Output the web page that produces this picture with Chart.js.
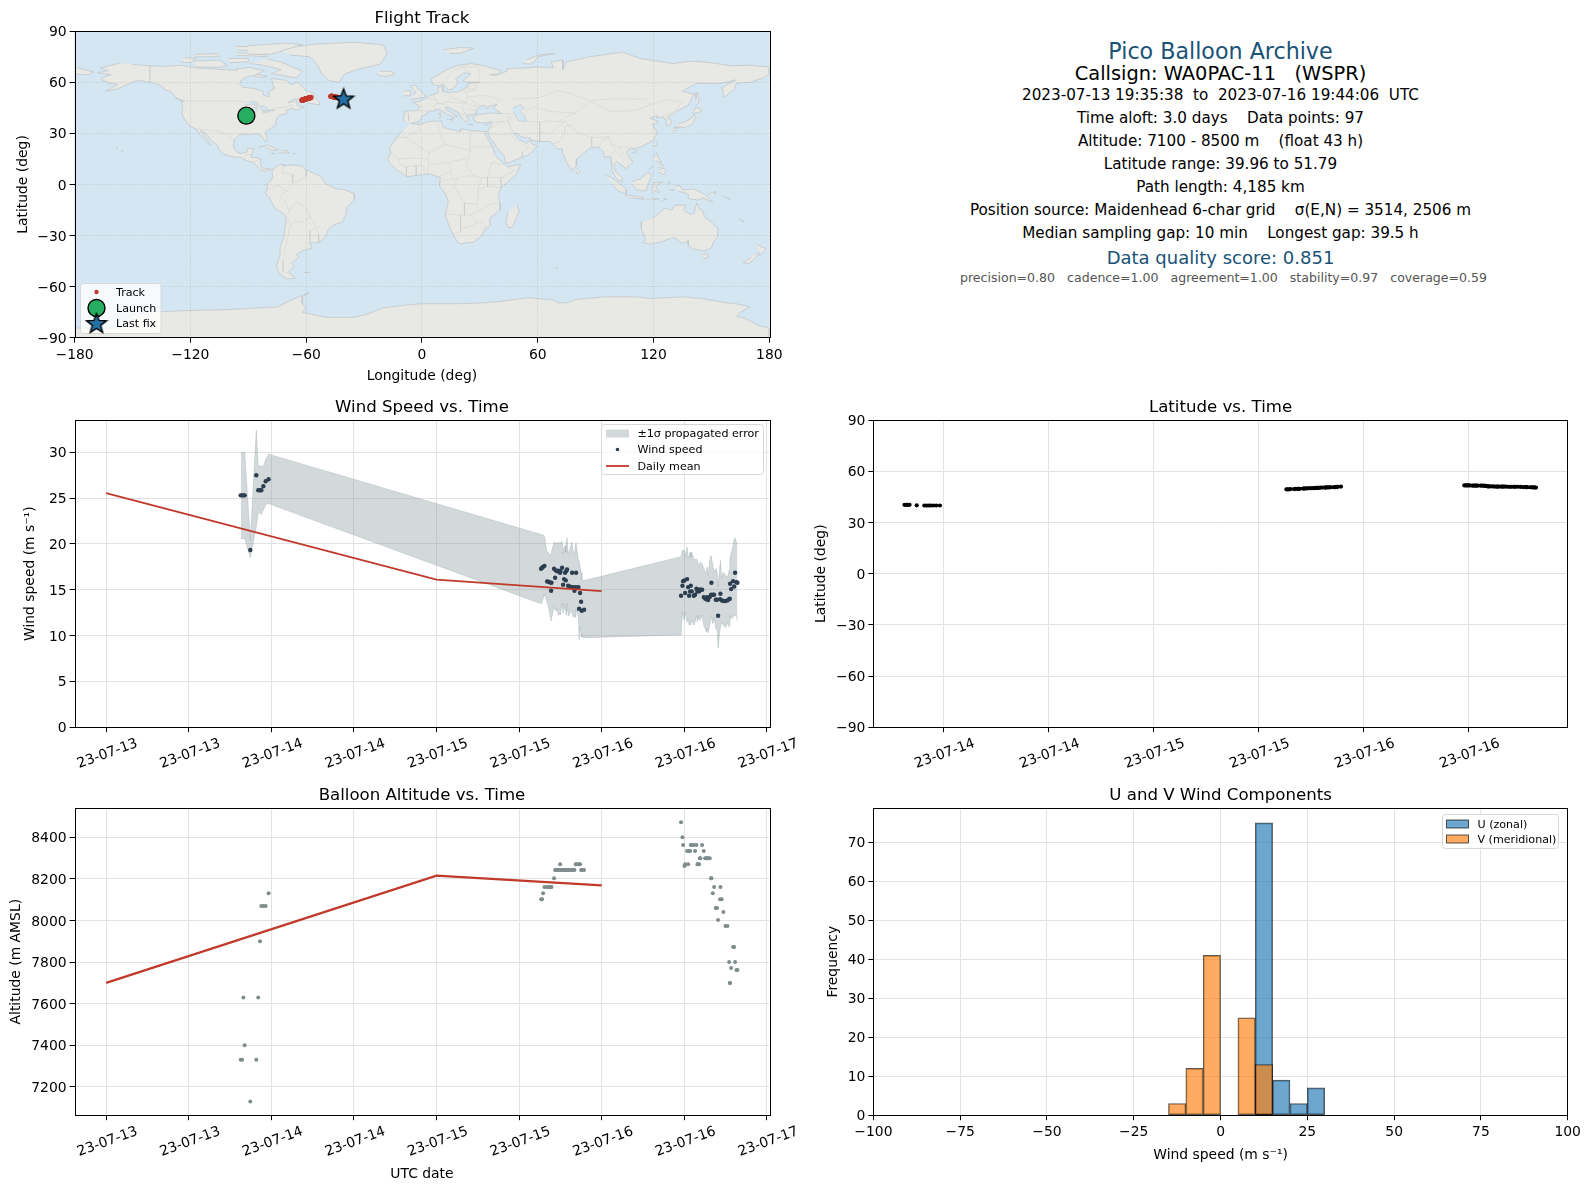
<!DOCTYPE html>
<html>
<head>
<meta charset="utf-8">
<title>Pico Balloon Archive</title>
<script src="https://cdn.jsdelivr.net/npm/chart.js@4/dist/chart.umd.min.js"></script>
<style>
  html, body { margin: 0; padding: 0; background: #fff; }
  #page { position: relative; width: 1589px; height: 1189px; overflow: hidden; }
  canvas { position: absolute; }
  .info { position: absolute; left: 873px; width: 695px; text-align: center; white-space: pre;
          font-family: "DejaVu Sans", sans-serif; transform: translateY(-50%); }
</style>
</head>
<body>
<div id="page">
  <canvas id="mapChart"></canvas>
  <canvas id="windChart"></canvas>
  <canvas id="latChart"></canvas>
  <canvas id="altChart"></canvas>
  <canvas id="histChart"></canvas>
</div>
<script>
// hours since 2023-07-13 00:00 UTC, one per report
const sampleHours = [
  19.55,19.75,19.94,20.13,20.95,21.82,22.1,22.36,22.55,22.84,23.18,23.6,
  63.2,63.34,63.49,63.68,64.07,64.26,64.5,64.65,64.7,65.08,65.23,65.33,65.57,65.71,65.96,66,66.25,66.39,66.54,66.68,66.78,66.83,66.97,67.12,67.36,67.65,67.7,67.85,68.04,68.23,68.28,68.62,68.72,68.86,69.01,69.1,69.44,
  83.53,83.73,83.83,84.02,84.12,84.41,84.55,84.7,84.84,84.94,85.08,85.38,85.57,85.76,85.91,86,86.15,86.25,86.34,86.59,86.83,87.02,87.22,87.31,87.46,87.7,87.89,87.94,88.14,88.33,88.57,88.76,88.91,89.2,89.25,89.44,89.68,89.98,90.27,90.51,90.61,90.65,90.8,91.09,91.24,91.38,91.57,91.72
];
const windSpeed = [
  25.3,25.3,25.3,25.3,19.33,27.5,25.86,25.86,25.86,26.3,26.84,27.06,
  17.29,17.4,17.5,17.61,15.91,15.87,15.8,14.89,15.76,17.29,16.31,17.11,17,17.07,16.85,17.03,17.4,15.54,16.16,16.85,16.02,17.03,17.21,15.44,15.36,15.29,16.85,15.29,14.89,15.29,16.85,15.29,12.93,14.64,13.69,12.71,12.82,
  14.35,15.44,15.94,16.02,14.64,16.16,15.29,14.35,14.82,15.44,14.82,14.35,14.46,15.11,14.82,15,14.82,15,15,15,14.2,14.05,13.95,14.2,13.87,14.2,14.46,15.76,14.46,14.46,13.91,13.91,12.17,13.98,14.56,13.84,13.77,13.77,13.84,13.98,14.02,15.65,15.07,15.94,15.36,16.85,15.83,15.76
];
const windUpper = [
  30,30,30,30,20.4,32.4,28.5,28.5,28.5,28.44,29.2,29.8,
  21.03,20.95,21,20.8,19.1,19.1,18.7,18.9,19.1,20.2,20,20.1,20.1,20.2,20,20.1,20.3,18.9,19.65,19.8,19.1,20.1,20.66,18.9,19.3,20.2,20,19.1,18.9,20,20.1,18.2,18.2,17.5,16.9,16.1,16,
  18.6,19.3,19.36,19.3,18.56,19.65,18.4,18.74,19.1,18.56,19.1,18.38,18.27,18.38,18.2,17.9,17.65,18,18,17.83,17.3,16.9,17.1,17.47,16.56,18.2,18.74,18.74,17.65,16.9,17.3,16.9,15.3,17.83,18.2,16.2,16.9,16.56,16.38,17.1,17.83,18.56,18.92,19.83,20.54,20.66,20.2,20
];
const windLower = [
  20.6,20.6,20.6,20.6,18.5,21.9,23.4,23.4,23.2,23.7,24.3,24.4,
  13.47,13.66,14,14.56,13.66,13.1,12.2,11.6,11.84,13.2,12.75,13,12.6,12.2,12.4,12.3,13.5,12.4,13.5,12.75,13.1,12.2,13.5,12.1,12.4,12.75,12.6,12,12.2,11.95,12.9,12,9.55,10.9,10.2,9.85,9.77,
  10.06,12.57,12,11.66,12.57,11.48,11.84,11.12,11.3,11.2,11.66,11.12,11.48,12.2,11.48,12.2,11.66,12,11.84,12.2,11.12,10.75,10.4,10.75,10.28,11.12,12,12.2,11.3,12,10.75,10.57,8.65,10.75,10.9,11.48,11.12,10.9,11.37,11,11.2,12.2,11.84,12,12.2,12.2,12.2,11.6
];
const altitudeM = [
  7330,7330,7630,7400,7130,7330,7630,7900,8069,8069,8069,8131,
  8102,8102,8131,8160,8160,8160,8160,8160,8160,8203,8242,8242,8242,8242,8270,8242,8242,8242,8242,8242,8242,8242,8242,8242,8242,8242,8242,8242,8242,8270,8270,8270,8270,8270,8242,8242,8242,
  8472,8400,8362,8261,8270,8333,8270,8333,8333,8362,8362,8362,8333,8362,8270,8270,8270,8299,8299,8362,8333,8299,8299,8299,8299,8299,8203,8203,8131,8160,8059,8059,8002,8102,8160,8102,8040,7973,7973,7800,7699,7699,7771,7872,7872,7800,7762,7762
];
const latitudeDeg = [
  40.4,40.4,40.4,40.4,40.1,40,39.96,40,40,40,40,40,
  49.5,49.5,49.5,49.6,49.6,49.7,49.7,49.8,49.8,49.9,49.9,50,50,50.1,50.1,50.1,50.2,50.2,50.3,50.3,50.4,50.4,50.4,50.5,50.5,50.5,50.6,50.6,50.6,50.7,50.7,50.7,50.8,50.8,51,51,51.1,
  51.79,51.79,51.79,51.75,51.75,51.7,51.7,51.7,51.7,51.65,51.65,51.6,51.6,51.6,51.5,51.5,51.3,51.2,51.2,51.2,51.2,51.1,51.1,51.1,51.1,51.1,51.1,51.1,51.1,51.1,51,51,51,51,51,51,51,50.9,50.8,50.8,50.8,50.8,50.7,50.7,50.7,50.6,50.6,50.5
];
const longitudeDeg = [
  -91,-90.9,-90.8,-90.7,-90.3,-89.8,-89.5,-89.4,-89.3,-89.2,-89,-88.8,
  -62.2,-62.1,-62,-61.9,-61.7,-61.6,-61.5,-61.4,-61.3,-61.1,-61,-60.9,-60.8,-60.7,-60.6,-60.5,-60.4,-60.3,-60.1,-60,-59.9,-59.8,-59.7,-59.6,-59.4,-59.3,-59.2,-59.1,-58.9,-58.8,-58.7,-58.5,-58.4,-58.2,-58,-57.8,-57.5,
  -47.2,-47.1,-47,-46.9,-46.8,-46.7,-46.6,-46.4,-46.3,-46.2,-46.1,-46,-45.9,-45.8,-45.7,-45.6,-45.5,-45.3,-45.2,-45.1,-45,-44.9,-44.7,-44.6,-44.5,-44.3,-44.2,-44.1,-44,-43.8,-43.7,-43.6,-43.4,-43.3,-43.2,-43,-42.9,-42.7,-42.5,-42.4,-42.2,-42,-41.8,-41.6,-41.4,-41.2,-40.9,-40.6
];

// daily means
const dailyHours = [0, 48, 72];
const dailyWind = [25.55, 16.1, 14.85];
const dailyAlt = [7700, 8215, 8168];

// histogram bins (bin centres, 5 m/s wide)
const uBins = [12.5, 17.5, 22.5, 27.5];
const uCounts = [75, 9, 3, 7];
const vBins = [-12.5, -7.5, -2.5, 7.5, 12.5];
const vCounts = [3, 12, 41, 25, 13];

// axis ticks
const timeTicks = [0, 12, 24, 36, 48, 60, 72, 84, 96];
const timeLabels = ['23-07-13','23-07-13','23-07-14','23-07-14','23-07-15','23-07-15','23-07-16','23-07-16','23-07-17'];
const latTimeTicks = [24, 36, 48, 60, 72, 84];
const latTimeLabels = ['23-07-14','23-07-14','23-07-15','23-07-15','23-07-16','23-07-16'];
const lonTicks = [-180, -120, -60, 0, 60, 120, 180];
const latTicks = [-90, -60, -30, 0, 30, 60, 90];
const windTicks = [0, 5, 10, 15, 20, 25, 30];
const altTicks = [7200, 7400, 7600, 7800, 8000, 8200, 8400];
const histXTicks = [-100, -75, -50, -25, 0, 25, 50, 75, 100];
const histYTicks = [0, 10, 20, 30, 40, 50, 60, 70];

// land outlines, [lon, lat]
const northAmerica = [[-156.6,71.3],[-166.8,68.3],[-162.6,66.9],[-168,65.6],[-161,64.5],[-165,63],[-166,61.6],[-162,59.5],[-157.5,58.8],[-164,54.7],[-158,56],[-153,58.5],[-151.5,59.3],[-149,60.6],[-146,61],[-140,59.8],[-135.5,58.2],[-133,55.5],[-130,54.5],[-127.5,51],[-123,49],[-124.5,48.3],[-124,46],[-124.4,42.5],[-123.8,39.5],[-122,36.7],[-120.5,34.5],[-117.2,32.6],[-116,31],[-115,29],[-112.5,26.5],[-110,23],[-109.5,23.1],[-111,25.8],[-113,28.5],[-114.7,31.5],[-113,31],[-110.5,27.8],[-109,25.5],[-106,23],[-105,20],[-103,18.2],[-100,16.7],[-96,15.8],[-94,16.2],[-92,14.5],[-89,13.3],[-87.5,13],[-85.7,11],[-83.5,8.5],[-81,7.5],[-80,8.8],[-77.5,7.8],[-77.4,8.7],[-79.5,9.5],[-81.5,9],[-83.5,10.5],[-83.5,15],[-86,15.9],[-88.5,15.9],[-88,18.5],[-87,21.3],[-90.3,21],[-90.7,19],[-94,18.2],[-96,19],[-97.7,22],[-97.2,26],[-94.5,29.5],[-90,29.2],[-85,29.7],[-82.8,28],[-81,25.2],[-80,26.8],[-81.3,30.5],[-75.5,35.3],[-76,37],[-74,40.5],[-70,41.7],[-70.5,43.5],[-67,44.8],[-65.5,43.5],[-61,45.3],[-64.5,46.3],[-65,49],[-69.5,48],[-66.5,50.2],[-59,50.2],[-55.8,52],[-56,53.5],[-60.5,55.5],[-62,57.5],[-64.5,60.3],[-68,58.5],[-70,61],[-78,62.4],[-77,57.5],[-76.7,56],[-79.5,54.5],[-79,51.5],[-82,52.5],[-82.5,55],[-88,56.5],[-92.5,57],[-94.5,59],[-93.5,61.5],[-90,63.5],[-87,64],[-81.5,67],[-86,67.8],[-89,68.8],[-94,68],[-96,68],[-96,67],[-108,67.8],[-115,68.2],[-125,70],[-135,69.3],[-141,69.7],[-150,70.5]];
const greenland = [[-73,78.5],[-65,81],[-55,82.5],[-35,83.5],[-20,82],[-18,77],[-20,73],[-22,70.5],[-32,68],[-40,65],[-43,60],[-48,61],[-52,65],[-54,70],[-58,75],[-68,76]];
const southAmerica = [[-77.4,8.7],[-75,11],[-72,12],[-71.5,10.8],[-68,11.5],[-62,10.7],[-60,8.5],[-52,4.5],[-50,0.5],[-44.5,-2.5],[-40,-3],[-35.2,-5.5],[-35,-9],[-39,-13.5],[-39.5,-18],[-41,-22],[-46,-24],[-48.5,-26.5],[-50,-31],[-53.5,-34.2],[-58.2,-34.3],[-57,-37.5],[-62,-39],[-65,-41],[-63.7,-42.5],[-67.5,-46.5],[-66,-48],[-69,-51],[-68.2,-52.5],[-65.5,-55],[-70,-55.5],[-74,-52.5],[-75.5,-48],[-73.5,-41.5],[-73.5,-37],[-71.5,-30],[-70.2,-20],[-72,-17],[-76.3,-14],[-79,-8],[-81.3,-5],[-80,-2.5],[-80.2,0.5],[-78.5,2],[-77.3,4],[-77.5,7]];
const africa = [[-6,35.8],[-1,35.2],[3,36.9],[10,37.3],[11,33.5],[15,32.3],[20,31],[20,32.8],[25,31.6],[32,31.2],[34.2,31.3],[32.5,30],[34,27],[37,21],[37.5,18],[39.5,15.2],[43,12],[44.5,10.5],[51.2,11.8],[49,6],[44,1],[41,-2],[39.5,-6],[40.5,-11],[40.5,-15],[35,-20],[35.5,-24],[32.9,-26],[31,-30],[27,-33.8],[20,-34.8],[18.4,-34],[15,-27],[12,-18],[13.7,-10.5],[12,-5],[9,-1],[9.5,4],[5,5.8],[4,6.3],[-4,5.2],[-7.5,4.4],[-13,8.5],[-16.8,12.5],[-17.5,14.7],[-16.2,19],[-17,21],[-13,27.7],[-9.8,31.5]];
const eurasia = [[-9,37],[-9.5,38.7],[-9,43],[-2,43.4],[-1.2,46],[-4.7,48.4],[-1.5,48.7],[1.5,50.2],[4,52],[8.5,54],[8.2,57],[10.5,57.7],[10.8,54.5],[14,54],[19,54.4],[21,56],[24,57.5],[24,59.3],[30,60],[23,60],[21.2,61],[25.3,65],[22,65.7],[17.5,62],[18.8,60],[16.5,56.5],[14.2,55.5],[12.8,56],[11,59],[8,58],[5.3,59],[5,62],[13,67.5],[19,70],[25.5,71],[31,70],[41,67],[40,65],[35,64.5],[38,64],[44,66.5],[44,68],[54,68.5],[60,69],[68,68.5],[67,72],[73,73],[73,67.5],[75,72],[87,75],[104,77.7],[113,74],[130,71],[140,72.5],[150,71.5],[160,69.7],[170,70],[180,69],[180,65],[177,62.5],[170,60],[163,59.5],[162,56],[156.5,51],[155.5,57],[163,61.5],[155,59.3],[142,59.3],[135,54.7],[141,53],[138,46.5],[132,43],[129.5,41],[127.5,39.7],[129.3,37],[129,35.2],[126.5,34.5],[126.7,37.5],[125,39.7],[121.5,39],[122,40.5],[118,39],[122.5,37],[119.5,35],[122,30.5],[120,26],[114,22.3],[110,21],[108,21.5],[106,19],[109.3,13],[105.5,9],[104.8,10.3],[100.8,13.5],[99.5,11],[100,8],[103.5,4],[104,1.3],[101,3],[98.5,8],[98.2,13],[97.5,16.5],[94.5,16],[94,19],[92,21.5],[90,22],[87,21.3],[85,19.5],[80.3,15],[80,11],[77.5,8],[74.5,14],[72.8,19],[72.5,21],[70,21],[68,23.5],[66.5,25.3],[61,25.2],[57,25.8],[56.3,27],[51.5,28],[49,30.2],[48,29.8],[50,26.7],[51.5,25.5],[54,24.2],[56.3,26],[56.8,24],[59.8,22.5],[55.5,17.5],[52,16],[45,12.8],[43.3,12.8],[42.5,16.5],[39,21.5],[35,28],[34.8,29.5],[34.2,31.3],[35.8,35],[36,36.7],[32,36.1],[27.5,36.7],[26.3,39.3],[29,41],[35,42],[41.5,41.5],[37,44.8],[39,47],[35,46],[33.5,44.5],[33,46],[31,46.5],[28,43.5],[28.5,41.5],[26,40.7],[23,40.3],[24,38],[22.8,36.5],[21.2,38],[19.4,41],[19,42.2],[14,45],[12.3,45.3],[12.5,44],[16,41.7],[18.4,40],[16.7,40],[16,38],[15.7,40.2],[12.3,41.7],[10.2,43.3],[8.8,44.4],[6,43.1],[3.2,43.2],[3,41.8],[0,40],[-0.5,38.2],[-2,36.8],[-5.5,36]];
const chukotkaWest = [[-180,69],[-175,67.5],[-170,66],[-173,64.3],[-180,65]];
const australia = [[114,-22],[113.7,-26],[115.7,-32],[115,-34.3],[118,-35],[123.5,-33.9],[129,-31.6],[131.5,-31.5],[135,-34.7],[138,-33],[138,-35.7],[140.5,-38],[144,-38.5],[146.5,-39],[150,-37.3],[151,-34],[153,-31],[153.3,-26],[150.8,-23],[146.5,-19],[145.3,-15],[143.5,-14],[142.5,-10.8],[141.7,-13.5],[141,-17],[139,-17.5],[135.5,-15],[136.7,-12],[131,-12.2],[129.5,-15],[125.8,-14],[122.3,-17.5],[119,-20]];
const antarctica = [[-180,-84.3],[-158,-84.5],[-150,-79],[-155,-77.5],[-140,-75],[-120,-74],[-100,-73.5],[-90,-72.8],[-75,-72],[-68,-68],[-58,-63.3],[-62,-66],[-62,-70],[-60,-73],[-62,-75],[-50,-78],[-35,-78],[-28,-76],[-20,-72.5],[-10,-71],[0,-70],[20,-70],[32,-69.5],[40,-68.8],[55,-66.5],[68,-67.8],[70,-69.5],[75,-69.5],[80,-67.5],[95,-66],[110,-66],[120,-67],[135,-66],[145,-67],[155,-69],[165,-70.5],[170,-72],[165,-75],[163,-77.5],[167,-78.5],[175,-83],[180,-84.3],[180,-90],[-180,-90]];
const islands = [
  [[-80,73.7],[-72,71.5],[-62,66.5],[-65,62.5],[-72,64],[-78,65],[-73,67.5],[-82,70],[-89,71]], // Baffin
  [[-117,69],[-105,68.7],[-101,70],[-105,73],[-118,72.5]], [[-125,72],[-120,71.5],[-117,74],[-123,74.5]],
  [[-90,76.5],[-78,76.5],[-62,82],[-70,83],[-90,81.5]], [[-96,76],[-80,75],[-80,76],[-96,77.5]],
  [[-118,75],[-105,75],[-106,76.8],[-118,76.5]], [[-95,79],[-88,78.5],[-88,81],[-97,81]],
  [[-100,71.5],[-90,72],[-90,74],[-100,74]], [[-87,65],[-80,63.5],[-83,62.8],[-87,63.5]],
  [[-59,47.8],[-53,46.7],[-53,48.5],[-56,51.5]], [[-128,50.8],[-123.5,48.4],[-125,48.7]],
  [[-85,21.8],[-80,23.1],[-74.2,20.2],[-77.7,19.9],[-81,22]], [[-74.4,18.5],[-68.5,18.5],[-70,19.8],[-73,19.9]],
  [[-78.3,18.3],[-76.3,18],[-77,18.5]], [[-67.2,18],[-65.7,18.2],[-66.5,18.5]], [[-156,19],[-155,19.7],[-155.8,20.2]], [[-158.2,21.3],[-157.7,21.3],[-158,21.7]],
  [[-61,-51.8],[-58,-51.5],[-58.5,-52.3]], [[49.3,-12],[50.4,-15.5],[47,-25],[45,-25.5],[43.5,-22.5],[44.5,-16]],
  [[-5.5,50],[1.4,51.2],[1.7,52.7],[-2,56],[-3,58.6],[-6,57.5],[-3,54],[-4.8,52.5]], [[-10,52],[-6,52.2],[-6,55],[-8.5,55.2],[-10,54]],
  [[-24,65.5],[-22,63.9],[-18,63.4],[-14,65],[-16,66.5],[-22,66.4]], [[11,79],[20,80.5],[27,80],[20,77],[14,77]],
  [[52,71],[57,70.7],[60,75],[69,77],[60,76],[54,73]], [[80,9.7],[82,7.5],[80.5,6],[79.8,8]],
  [[12.5,38],[15.5,38.2],[15,36.7]], [[8.3,39],[9.7,39.2],[9.5,41],[8.3,40.8]], [[8.6,41.5],[9.5,41.5],[9.4,43]], [[23.5,35.3],[26.3,35.1],[25,35.4]], [[32.3,34.8],[34.5,35.6],[33.5,34.8]],
  [[130.9,34],[136,33.5],[140,35],[142,39.5],[141,41.4],[139.8,39],[136.8,37],[133,35.5]], [[140,42],[143,42],[145.3,43.5],[141.8,45.5],[141,43.2]],
  [[130,33],[132,33.5],[131,31],[130,31.5]], [[132.5,33],[134.5,33.8],[134,34.3],[132.7,34]], [[142,46],[143.5,49],[143,54],[142,53.8],[142,50]],
  [[120.2,23],[121,22],[122,25],[121,25.2]], [[108.7,19],[110.5,18.3],[111,20],[109.7,20]], [[120,16],[121.8,18.5],[122.3,16],[124,13],[121,13.7]],
  [[122,7.3],[125.5,5.7],[126.5,8],[125.3,9.7],[123,8.5]], [[122.5,10],[125,10.5],[124.5,12],[123,11.5]], [[117.3,8.5],[119.5,10.5],[119,11]],
  [[109,1.5],[111.3,2.7],[113,3],[117,7],[119,5.3],[117.5,1],[116,-4],[111,-3],[109.2,0]], [[95.3,5.6],[98,4.2],[104,-1],[106,-3],[105.8,-5.8],[102,-4],[98.5,0.3]],
  [[105.2,-6.8],[108.5,-6.5],[114.5,-7.7],[114.5,-8.7],[108,-7.8]], [[119.5,-5.5],[119,-3],[120,1],[125,1.5],[121,-0.8],[123,-4.8],[121,-4],[120.5,-3]],
  [[131,-1],[134,-0.8],[135,-3.3],[141,-2.6],[147,-6],[150.7,-10.5],[146,-8],[143,-9.2],[138,-8.3],[138,-5.5],[133,-4]],
  [[124,-10],[127,-8.4],[125,-8.6]], [[116,-8.8],[119,-8.4],[122.8,-8.4],[120,-9]], [[156,-7],[160,-9],[159,-8]], [[148,-5.8],[152,-4.2],[152,-5.5]], [[127.5,0.5],[128.5,2],[128,-0.5]], [[128,-3.3],[130.8,-3.3],[129.5,-2.9]],
  [[144.7,-40.8],[148.3,-40.9],[148,-43],[146,-43.6],[145.3,-42.5]], [[172.8,-34.5],[175.5,-36.5],[178.4,-37.7],[176.8,-40],[175,-41.5],[174.7,-39.5]],
  [[172.7,-40.6],[174.3,-41.7],[171,-45],[169,-46.6],[166.5,-46],[170.5,-43]], [[164,-20],[167,-22],[165.5,-21.5]], [[69,-49],[70.5,-49.3],[69.5,-49.8]]
];
// inland water painted in the ocean colour
const caspianSea = [[47,45],[51,47],[53,45],[51,43],[53.5,40],[54,37],[50,37.3],[49,39],[47.5,43]];
const greatLakes = [[[-92,46.8],[-85,46.7],[-85,48],[-88.5,49]], [[-87.7,41.8],[-86.3,42],[-85,45.7],[-87.8,45]], [[-84.5,46],[-81.5,46],[-79.7,44.5],[-82,43],[-83.5,44]], [[-83.2,41.8],[-79,42.8],[-79,43.4],[-76.3,43.6],[-79.7,43.8],[-82,42.5]]];
// country borders, null starts a new line
const borders = [
  [-141,69.7],[-141,60],null,[-123,49],[-95,49],[-89,48],[-84,46.5],[-82.5,43],[-79,43],[-75,45],[-71,45],[-67.8,47],[-67,44.8],null,
  [-117.2,32.6],[-106.5,31.8],[-101,29.5],[-97.2,26],null,[-92,14.5],[-91,17.5],[-89,17.8],[-88.5,15.9],null,[-87.5,13],[-85,14.5],[-83.5,15],null,
  [-72,12],[-72.5,7],[-67,6],[-67,1],[-70,-4],[-74,-7],[-70,-11],[-69,-16],[-70.2,-18],null,[-80,-3.5],[-75,-0.5],[-70,-4],null,[-60,8.5],[-60,5],[-64,2],[-67,1],null,
  [-69,-16],[-65,-10],[-60,-14],[-58,-19],[-54.5,-25.5],[-58,-27],[-58,-34],null,[-70.2,-18],[-68,-23],[-70,-33],[-72,-45],[-72,-51],[-68.2,-52.5],null,[-58,-19],[-62,-22],[-67,-22],null,[-54.5,-25.5],[-53.5,-30],[-53.5,-34],null,
  [-9,42],[-7,41.8],[-7,37.2],null,[-1.8,43.4],[3,42.5],null,[2.5,51],[8,49],[7.5,47.5],[6,46],[7.5,43.8],null,[7,53.5],[6,51],[8,49],null,[14,54],[15,51],[13,48.5],[9,47.5],[7.5,47.5],null,[9,47.5],[13,46.5],[13.7,45.5],null,
  [15,51],[19,49.5],[23,48],[23.5,51.5],[23.5,54],[21,55.2],null,[13,48.5],[17,48],[22,48],[29,45.5],null,[22,48],[21,44],[22.5,41.3],[19.4,41.7],null,[29,41.8],[26,41.5],[22.5,41.3],[20.5,40],null,[28,43.5],[22.5,44],null,
  [30,46.5],[27,48.3],[24,51.5],[32,52.3],[40,50],[38,47.2],null,[21,56],[28,56],[28,59.4],null,[23.5,54],[28,56],null,[30,60],[30,64],[29,69.5],[25.5,69],[20.5,69],null,[12,61],[16,67],[20.5,69],[25,65.8],null,
  [-8.7,27.5],[-13,27.7],null,[-2,35],[-1,32],[-8.7,27.5],[-5,25],[3,19],[4,19],[12,23.5],[9.5,30],[8,36.9],null,[12,23.5],[25,20],[25,31.6],null,[25,22],[36.9,22],null,[25,20],[24,15.5],[23,10],[27,5],[31,3.8],[34,4.2],[36,12.5],[39.5,15],null,
  [-16.2,19],[-12,15],[-5.5,15.5],[3,15],[4,19],null,[3,15],[3.5,11.5],[2.7,6.3],null,[3.5,11.5],[14,13],[15,8],[9,4.5],null,[14,13],[24,15.5],null,[-12,15],[-11.5,12.2],[-8,10.3],[-3,11],[1,11],[1.2,6],null,[-8,10.3],[-8,4.5],null,[-3,11],[-3,5.2],null,
  [15,8],[16,3],[18,3.5],[23,5],[27,5],null,[16,3],[11,2.2],[9.8,1],null,[18,3.5],[17,-1],[13,-4.8],null,[17,-1],[20,-7],[22,-11],[24,-11],[28.5,-12],[29,-8],[29,-3],[31,3.8],null,[12,-17.3],[20.5,-18],[25,-18],[30,-15.5],[35,-11.5],[40.5,-10.5],null,[22,-11],[22,-18],null,[20,-18],[20,-28],[16.5,-28.7],null,
  [25,-18],[29,-22.3],[32,-22.3],[32.9,-26],null,[20,-25],[23,-25.5],[29,-22.3],null,[29,-3],[34,-1],[41,-2],null,[34,4.2],[34,-1],null,[34,4.2],[41,4],[41,-2],null,[36,12.5],[42.5,12],null,[41,4],[48,8],[43,11],
  null,[35.6,33],[42,37],[44.8,37.3],[46,33],[48,30],null,[42,37],[36,36.7],null,[46,33],[44.8,37.3],[44.8,39.7],null,[48,30],[44,29.2],[36,29.5],null,[46,29],[52,23],[55.5,22],[52,19],[52,16],null,[44.8,39.7],[48,38.5],null,[41.5,41.5],[47,41.5],[48.5,41.8],null,
  [53.5,37.3],[61,36.5],[61,31],[61,25.2],null,[61,36.5],[65,37.3],[71,37],[74.5,37],null,[61,31],[66,29.5],[70,33.5],[74,37],null,[71,37],[75,40],[80,42],[87,49],null,[53,42],[56,45],[58.5,45.5],[66,43],[71,42.5],[80,42],null,[47,50],[61,51],[70,55],[77,53.5],[87,49],null,
  [87,49],[98,42.8],[111,43.5],[119,47],[116,50],[106,50.3],[98,50.3],[87,49],null,[119,47],[127,50],[135,48.4],[131,43],null,[124.5,40],[130,42.5],null,[125,38],[129,38.5],null,
  [74,37],[79,32],[81,30],[88,27.5],[97,28],[98,24],[102,22],[107,22],null,[68,23.8],[71,25],[74,30],[74,34],[78,35],null,[88,27.5],[88,22],null,[92,21.5],[92.5,25],[97,28],null,[98,24],[100,20],[98,16],[99,11],null,[100,20],[102,18],[105,14.5],[103,11],null,[102,22],[104,18],[107.5,15],[106,11]
];

const MAP_LAND = '#e8e8e4', MAP_OCEAN = '#d4e6f1', RED = '#c0392b', NAVY = '#2c3e50', SLATE = '#7f8c8d';
const BLUE = '#2471a3', GREEN = '#27ae60', INK = '#1a5276';
const FONT = '"DejaVu Sans", sans-serif';

Chart.defaults.font.family = FONT;
Chart.defaults.font.size = 13.9;
Chart.defaults.color = '#000';

const pts = arr => arr.map(p => p ? {x: p[0], y: p[1]} : {x: NaN, y: NaN});
const zip = (xs, ys) => xs.map((x, i) => ({x: x, y: ys[i]}));
const minus = v => String(v).replace('-', '\u2212');

// filled five point star, chart.js only has the asterisk one
function starSprite(size) {
  const c = document.createElement('canvas');
  c.width = c.height = size;
  const g = c.getContext('2d');
  const r = size / 2 - 1.5;
  g.beginPath();
  for (let i = 0; i < 10; i++) {
    const a = -Math.PI / 2 + i * Math.PI / 5;
    const rr = i % 2 ? r * 0.42 : r;
    g.lineTo(size / 2 + rr * Math.cos(a), size / 2 + 1 + rr * Math.sin(a));
  }
  g.closePath();
  g.fillStyle = BLUE;
  g.fill();
  g.lineWidth = 1.4;
  g.strokeStyle = '#000';
  g.stroke();
  return c;
}
const star = starSprite(24);

// black box round the plot, optional background
function framePlugin(bg) {
  return {
    id: 'frame',
    beforeDraw(chart) {
      if (!bg) return;
      const a = chart.chartArea;
      chart.ctx.fillStyle = bg;
      chart.ctx.fillRect(a.left, a.top, a.width, a.height);
    },
    afterDraw(chart) {
      const a = chart.chartArea, ctx = chart.ctx;
      ctx.strokeStyle = '#000';
      ctx.lineWidth = 1;
      ctx.strokeRect(Math.round(a.left) + 0.5, Math.round(a.top) + 0.5, Math.round(a.width), Math.round(a.height));
    }
  };
}

// matplotlib style legend box placed in canvas pixels
function boxLegend(box, rows) {
  return {
    id: 'boxLegend',
    afterDraw(chart) {
      const ctx = chart.ctx;
      ctx.save();
      ctx.beginPath();
      ctx.roundRect(box.x, box.y, box.w, box.h, 3);
      ctx.fillStyle = 'rgba(255,255,255,0.8)';
      ctx.fill();
      ctx.strokeStyle = '#d8d8d8';
      ctx.lineWidth = 1;
      ctx.stroke();
      rows.forEach(r => {
        if (r.patch) {
          ctx.fillStyle = r.patch;
          ctx.fillRect(r.mx, r.y - 4, r.mw, 8);
          if (r.edge) { ctx.strokeStyle = r.edge; ctx.strokeRect(r.mx, r.y - 4, r.mw, 8); }
        } else if (r.line) {
          ctx.strokeStyle = r.line;
          ctx.lineWidth = 1.8;
          ctx.beginPath(); ctx.moveTo(r.mx, r.y); ctx.lineTo(r.mx + r.mw, r.y); ctx.stroke();
        } else if (r.dot) {
          ctx.fillStyle = r.dot;
          ctx.beginPath(); ctx.arc(r.mx, r.y, r.rad, 0, Math.PI * 2); ctx.fill();
          if (r.edge) { ctx.strokeStyle = r.edge; ctx.lineWidth = 1.4; ctx.stroke(); }
        } else if (r.sprite) {
          ctx.drawImage(r.sprite, r.mx - r.sprite.width / 2, r.y - r.sprite.height / 2);
        }
        ctx.fillStyle = '#000';
        ctx.font = '11.1px ' + FONT;
        ctx.textAlign = 'left';
        ctx.textBaseline = 'middle';
        ctx.fillText(r.text, box.tx, r.y + 1);
      });
      ctx.restore();
    }
  };
}

// place a canvas and pin its plot area to page pixels
function makeChart(id, c, config) {
  const el = document.getElementById(id);
  el.style.left = c.x + 'px';
  el.style.top = c.y + 'px';
  el.width = c.w;
  el.height = c.h;
  el.style.width = c.w + 'px';
  el.style.height = c.h + 'px';
  const o = config.options;
  o.responsive = false;
  o.animation = false;
  o.devicePixelRatio = 1;
  o.layout = {autoPadding: false, padding: {left: 0, top: 0, bottom: 0, right: c.x + c.w - c.right}};
  o.plugins = Object.assign({
    legend: {display: false},
    tooltip: {enabled: false},
    title: {
      display: true, text: c.title, fullSize: false, color: '#000',
      font: {size: 16.6, weight: 'normal', lineHeight: 1.2},
      padding: {top: c.top - c.y - 23, bottom: 3}
    }
  }, o.plugins || {});
  o.scales.x.afterFit = ax => { ax.height = c.y + c.h - c.bottom; };
  o.scales.y.afterFit = ax => { ax.width = c.left - c.x; };
  return new Chart(el, config);
}

function valueAxis(list, min, max, opts) {
  opts = opts || {};
  const ax = {
    type: 'linear', min: min, max: max, offset: false,
    afterBuildTicks: a => { a.ticks = list.map(v => ({value: v})); },
    grid: {color: opts.gridColor || '#e2e2e2', lineWidth: 1, tickColor: '#000', tickLength: 5, offset: false, z: opts.gridZ || -1},
    border: {display: false, dash: opts.dash || []},
    ticks: {
      padding: opts.yAxis ? 3 : 4, autoSkip: false, maxRotation: 0, minRotation: 0, color: '#000',
      labelOffset: opts.yAxis ? 1.5 : 0,
      callback: opts.labels ? (v, i) => opts.labels[i] : v => minus(v)
    }
  };
  if (opts.rotate) {
    ax.ticks.maxRotation = ax.ticks.minRotation = 20;
    ax.ticks.labelOffset = 31;
    ax.ticks.padding = 3;
  }
  if (opts.title) ax.title = {display: true, text: opts.title, color: '#000', font: {size: 13.9, lineHeight: 1.2}, padding: opts.titlePad};
  return ax;
}

// ---- map
const landSets = [northAmerica, greenland, southAmerica, africa, eurasia, chukotkaWest, australia, antarctica].concat(islands).map(poly => ({
  data: pts(poly), showLine: true, fill: 'shape', tension: 0, pointRadius: 0,
  backgroundColor: MAP_LAND, borderColor: '#c3c8ca', borderWidth: 0.8, order: 10
}));
const waterSets = [caspianSea].concat(greatLakes).map(poly => ({
  data: pts(poly), showLine: true, fill: 'shape', tension: 0, pointRadius: 0,
  backgroundColor: MAP_OCEAN, borderColor: '#c3c8ca', borderWidth: 0.6, order: 9
}));
makeChart('mapChart', {x: 0, y: 0, w: 800, h: 400, left: 74.6, right: 769.3, top: 31.3, bottom: 337.7, title: 'Flight Track'}, {
  type: 'scatter',
  data: {datasets: landSets.concat(waterSets).concat([
    {data: pts(borders), showLine: true, tension: 0, pointRadius: 0, borderColor: 'rgba(165,172,172,0.22)', borderWidth: 0.8, order: 8},
    {data: zip(longitudeDeg, latitudeDeg), pointRadius: 2.6, pointBackgroundColor: RED, pointBorderWidth: 0, order: 3},
    {data: [{x: longitudeDeg[0], y: latitudeDeg[0]}], pointRadius: 8.5, pointBackgroundColor: GREEN, pointBorderColor: '#000', pointBorderWidth: 1.4, order: 2},
    {data: [{x: longitudeDeg[96], y: latitudeDeg[96]}], pointStyle: star, pointRadius: 12, order: 1}
  ])},
  options: {
    scales: {
      x: valueAxis(lonTicks, -180, 180, {gridColor: 'rgba(110,120,125,0.18)', gridZ: 1, dash: [1.5, 1.5], title: 'Longitude (deg)', titlePad: {bottom: 15.6}}),
      y: valueAxis(latTicks, -90, 90, {yAxis: true, gridColor: 'rgba(110,120,125,0.18)', gridZ: 1, dash: [1.5, 1.5], title: 'Latitude (deg)', titlePad: {top: 15}})
    }
  },
  plugins: [framePlugin(MAP_OCEAN), boxLegend({x: 80.5, y: 283.5, w: 80.5, h: 50, tx: 116}, [
    {dot: RED, rad: 2.2, mx: 96.5, y: 292, text: 'Track'},
    {dot: GREEN, rad: 8.5, edge: '#000', mx: 96.5, y: 308, text: 'Launch'},
    {sprite: star, mx: 96.5, y: 323, text: 'Last fix'}
  ])]
});

// ---- wind speed
makeChart('windChart', {x: 0, y: 395, w: 800, h: 375, left: 74.6, right: 769.3, top: 420.3, bottom: 727.2, title: 'Wind Speed vs. Time'}, {
  type: 'scatter',
  data: {datasets: [
    {data: zip(dailyHours, dailyWind), showLine: true, tension: 0, pointRadius: 0, borderColor: RED, borderWidth: 1.9, order: 1},
    {data: zip(sampleHours, windSpeed), pointRadius: 2.2, pointBackgroundColor: NAVY, pointBorderWidth: 0, order: 2},
    {data: zip(sampleHours, windUpper), showLine: true, tension: 0, pointRadius: 0, borderColor: 'rgba(149,165,166,0.35)', borderWidth: 1, backgroundColor: 'rgba(149,165,166,0.42)', fill: '+1', order: 3},
    {data: zip(sampleHours, windLower), showLine: true, tension: 0, pointRadius: 0, borderColor: 'rgba(149,165,166,0.35)', borderWidth: 1, order: 4}
  ]},
  options: {
    scales: {
      x: valueAxis(timeTicks, -4.58, 96.35, {labels: timeLabels, rotate: true}),
      y: valueAxis(windTicks, 0, 33.5, {yAxis: true, title: 'Wind speed (m s\u207b\u00b9)', titlePad: {top: 22}})
    }
  },
  plugins: [framePlugin(), boxLegend({x: 601.5, y: 29.5, w: 162, h: 50, tx: 637.5}, [
    {patch: 'rgba(149,165,166,0.42)', mx: 606, mw: 23, y: 38.5, text: '\u00b11\u03c3 propagated error'},
    {dot: NAVY, rad: 1.8, mx: 617.5, y: 54.5, text: 'Wind speed'},
    {line: RED, mx: 606, mw: 23, y: 71, text: 'Daily mean'}
  ])]
});

// ---- latitude
makeChart('latChart', {x: 800, y: 395, w: 789, h: 375, left: 873.4, right: 1567.7, top: 420.3, bottom: 727.2, title: 'Latitude vs. Time'}, {
  type: 'scatter',
  data: {datasets: [
    {data: zip(sampleHours, latitudeDeg), pointRadius: 2.1, pointBackgroundColor: '#000', pointBorderWidth: 0}
  ]},
  options: {
    scales: {
      x: valueAxis(latTimeTicks, 16, 95.35, {labels: latTimeLabels, rotate: true}),
      y: valueAxis(latTicks, -90, 90, {yAxis: true, title: 'Latitude (deg)', titlePad: {top: 12.6}})
    }
  },
  plugins: [framePlugin()]
});

// ---- altitude
makeChart('altChart', {x: 0, y: 780, w: 800, h: 409, left: 74.6, right: 769.3, top: 808.3, bottom: 1115.2, title: 'Balloon Altitude vs. Time'}, {
  type: 'scatter',
  data: {datasets: [
    {data: zip(dailyHours, dailyAlt), showLine: true, tension: 0, pointRadius: 0, borderColor: RED, borderWidth: 2.2, order: 1},
    {data: zip(sampleHours, altitudeM), pointRadius: 2, pointBackgroundColor: SLATE, pointBorderWidth: 0, order: 2}
  ]},
  options: {
    scales: {
      x: valueAxis(timeTicks, -4.58, 96.35, {labels: timeLabels, rotate: true, title: 'UTC date', titlePad: {bottom: 6.5}}),
      y: valueAxis(altTicks, 7064, 8539, {yAxis: true, title: 'Altitude (m AMSL)', titlePad: {top: 7.6}})
    }
  },
  plugins: [framePlugin()]
});

// ---- histogram
makeChart('histChart', {x: 800, y: 780, w: 789, h: 409, left: 873.4, right: 1567.7, top: 808.3, bottom: 1115.2, title: 'U and V Wind Components'}, {
  type: 'bar',
  data: {datasets: [
    {label: 'U (zonal)', data: zip(uBins, uCounts), backgroundColor: 'rgba(31,119,180,0.65)', borderColor: 'rgba(0,0,0,0.65)', borderWidth: 1, borderSkipped: false, barPercentage: 1, categoryPercentage: 1, grouped: false, order: 2},
    {label: 'V (meridional)', data: zip(vBins, vCounts), backgroundColor: 'rgba(255,127,14,0.65)', borderColor: 'rgba(0,0,0,0.65)', borderWidth: 1, borderSkipped: false, barPercentage: 1, categoryPercentage: 1, grouped: false, order: 1}
  ]},
  options: {
    scales: {
      x: valueAxis(histXTicks, -100, 100, {title: 'Wind speed (m s\u207b\u00b9)', titlePad: {bottom: 25}}),
      y: valueAxis(histYTicks, 0, 78.75, {yAxis: true, title: 'Frequency', titlePad: {top: 24.6}})
    }
  },
  plugins: [framePlugin(), boxLegend({x: 642.5, y: 34.5, w: 116, h: 34, tx: 677.5}, [
    {patch: 'rgba(31,119,180,0.65)', edge: 'rgba(0,0,0,0.65)', mx: 646.5, mw: 22, y: 44, text: 'U (zonal)'},
    {patch: 'rgba(255,127,14,0.65)', edge: 'rgba(0,0,0,0.65)', mx: 646.5, mw: 22, y: 59, text: 'V (meridional)'}
  ])]
});

// ---- summary text
const infoLines = [
  ['Pico Balloon Archive', 51.3, 22.2, INK, 0],
  ['Callsign: WA0PAC-11   (WSPR)', 73, 19.4, '#000', 0],
  ['2023-07-13 19:35:38  to  2023-07-16 19:44:06  UTC', 94.8, 15.2, '#000', 0],
  ['Time aloft: 3.0 days    Data points: 97', 117.6, 15.2, '#000', 0],
  ['Altitude: 7100 - 8500 m    (float 43 h)', 140.6, 15.2, '#000', 0],
  ['Latitude range: 39.96 to 51.79', 163.6, 15.2, '#000', 0],
  ['Path length: 4,185 km', 186.6, 15.2, '#000', 0],
  ['Position source: Maidenhead 6-char grid    \u03c3(E,N) = 3514, 2506 m', 209.6, 15.2, '#000', 0],
  ['Median sampling gap: 10 min    Longest gap: 39.5 h', 232.6, 15.2, '#000', 0],
  ['Data quality score: 0.851', 257, 18, INK, 0],
  ['precision=0.80   cadence=1.00   agreement=1.00   stability=0.97   coverage=0.59', 277, 12.57, '#555', 3]
];
infoLines.forEach(l => {
  const d = document.createElement('div');
  d.className = 'info';
  d.textContent = l[0];
  d.style.top = l[1] + 'px';
  d.style.fontSize = l[2] + 'px';
  d.style.color = l[3];
  d.style.left = (873 + l[4]) + 'px';
  document.getElementById('page').appendChild(d);
});
</script>
</body>
</html>
